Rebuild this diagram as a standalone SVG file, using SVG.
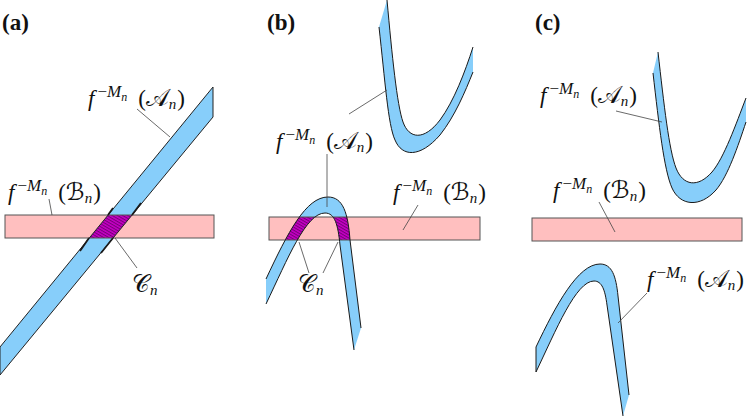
<svg xmlns="http://www.w3.org/2000/svg" width="749" height="419" viewBox="0 0 749 419">
<style>
  .band { fill: #87cefa; stroke: none; }
  .edge { fill: none; stroke: #1a1a1a; stroke-width: 1; }
  .outline { fill: none; stroke: #222; stroke-width: 1; }
  .thick { fill: none; stroke: #1a1a1a; stroke-width: 1.8; }
  .pink { fill: #ffbfbf; stroke: none; }
  .pinkline { fill: none; stroke: #555; stroke-width: 1; }
  .lead { fill: none; stroke: #444; stroke-width: 0.8; }
  .lab { font-family: "Liberation Serif", "DejaVu Serif", serif; font-size: 23px; fill: #111; }
  .i { font-style: italic; }
  .sup { font-size: 17px; }
  .ss { font-size: 12px; }
  .sub { font-size: 15px; }
  .cal { font-family: "DejaVu Serif", "DejaVu Sans", "Noto Sans", serif; font-size: 24px; }
  .panel { font-family: "Liberation Serif", "DejaVu Serif", serif; font-weight: bold; font-size: 23px; fill: #111; }
</style>
<defs>
  <pattern id="hatch" width="2.6" height="2.6" patternUnits="userSpaceOnUse" patternTransform="rotate(30)">
    <rect width="2.6" height="2.6" fill="#c800c8"/>
    <line x1="0" y1="0.6" x2="2.6" y2="0.6" stroke="#5a005a" stroke-width="0.8"/>
  </pattern>
  <clipPath id="clipA"><rect x="5" y="215" width="209" height="23"/></clipPath>
  <clipPath id="clipB"><rect x="269" y="217" width="211" height="23"/></clipPath>
</defs>

<!-- Panel (a) -->
<g id="panel-a">
  <text class="panel" x="2" y="30">(a)</text>
  <g id="a-rect"><rect class="pink" x="5" y="215" width="209" height="23"/></g>
  <g id="a-band">
    <polygon class="band" points="0,347 213,87 213,117 0,375"/>
    <polygon fill="url(#hatch)" clip-path="url(#clipA)" points="0,347 213,87 213,117 0,375"/>
    <rect class="pinkline" x="5" y="215" width="209" height="23"/>
    <polygon class="outline" points="0,347 213,87 213,117 0,375"/>
    <line class="thick" x1="89" y1="238" x2="80" y2="251"/>
    <line class="thick" x1="113" y1="238" x2="101" y2="253"/>
    <line class="thick" x1="132" y1="215" x2="141" y2="203"/>
    <line class="thick" x1="108" y1="215" x2="113" y2="208"/>
  </g>
  <g id="a-label-A" transform="translate(88,106)">
    <text class="lab" x="0" y="0"><tspan class="i">f</tspan><tspan class="sup" dx="3" dy="-9">−</tspan><tspan class="sup i">M</tspan><tspan class="ss i" dy="4">n</tspan><tspan dx="11" dy="5">(</tspan><tspan class="cal">𝒜</tspan><tspan class="sub i" dy="3">n</tspan><tspan dx="1" dy="-3">)</tspan></text>
  </g>
  <g id="a-label-B" transform="translate(8,200)">
    <text class="lab" x="0" y="0"><tspan class="i">f</tspan><tspan class="sup" dx="3" dy="-9">−</tspan><tspan class="sup i">M</tspan><tspan class="ss i" dy="4">n</tspan><tspan dx="11" dy="5">(</tspan><tspan class="cal">ℬ</tspan><tspan class="sub i" dy="3">n</tspan><tspan dx="1" dy="-3">)</tspan></text>
  </g>
  <g id="a-label-C" transform="translate(132,292)">
    <text class="lab" x="0" y="0"><tspan class="cal">𝒞</tspan><tspan class="sub i" dy="3">n</tspan></text>
  </g>
</g>

<!-- Panel (b) -->
<g id="panel-b">
  <text class="panel" x="267" y="30">(b)</text>
  <g id="b-upper">
    <path class="band" d="M379,27 C385,80 388,125 395,140 C402,157 420,158 440,135 C455,116 465,92 473,72 L473,47 C465,72 454,101 440,120 C424,141 409,139 403,122 C397,105 392,55 387,0 Z"/>
    <path class="edge" d="M379,27 C385,80 388,125 395,140 C402,157 420,158 440,135 C455,116 465,92 473,72"/>
    <path class="edge" d="M387,0 C392,55 397,105 403,122 C409,139 424,141 440,120 C454,101 465,72 473,47"/>
  </g>
  <g id="b-rect"><rect class="pink" x="269" y="217" width="211" height="23"/></g>
  <g id="b-lower">
    <path class="band" d="M266,279 C288,232 306,197 328,197 C343,197 348,213 350,240 L361,328 L354,350 L340,245 C338,225 335,213 325,213 C306,213 288,258 266,304 Z"/>
    <path fill="url(#hatch)" clip-path="url(#clipB)" d="M266,279 C288,232 306,197 328,197 C343,197 348,213 350,240 L361,328 L354,350 L340,245 C338,225 335,213 325,213 C306,213 288,258 266,304 Z"/>
    <rect class="pinkline" x="269" y="217" width="211" height="23"/>
    <path class="edge" d="M266,279 C288,232 306,197 328,197 C343,197 348,213 350,240 L361,328"/>
    <path class="edge" d="M266,304 C288,258 306,213 325,213 C335,213 338,225 340,245 L354,350"/>
  </g>
  <g id="b-label-A" transform="translate(276,149)">
    <text class="lab" x="0" y="0"><tspan class="i">f</tspan><tspan class="sup" dx="3" dy="-9">−</tspan><tspan class="sup i">M</tspan><tspan class="ss i" dy="4">n</tspan><tspan dx="11" dy="5">(</tspan><tspan class="cal">𝒜</tspan><tspan class="sub i" dy="3">n</tspan><tspan dx="1" dy="-3">)</tspan></text>
  </g>
  <g id="b-label-B" transform="translate(393,200)">
    <text class="lab" x="0" y="0"><tspan class="i">f</tspan><tspan class="sup" dx="3" dy="-9">−</tspan><tspan class="sup i">M</tspan><tspan class="ss i" dy="4">n</tspan><tspan dx="11" dy="5">(</tspan><tspan class="cal">ℬ</tspan><tspan class="sub i" dy="3">n</tspan><tspan dx="1" dy="-3">)</tspan></text>
  </g>
  <g id="b-label-C" transform="translate(298,292)">
    <text class="lab" x="0" y="0"><tspan class="cal">𝒞</tspan><tspan class="sub i" dy="3">n</tspan></text>
  </g>
</g>

<!-- Panel (c) -->
<g id="panel-c">
  <text class="panel" x="535" y="30">(c)</text>
  <g id="c-upper">
    <path class="band" d="M653,73 C659,125 664,170 672,188 C680,206 700,208 716,190 C728,176 738,146 746,122 L746,98 C736,124 724,158 712,172 C698,188 683,186 676,168 C669,150 664,105 658,52 Z"/>
    <path class="edge" d="M653,73 C659,125 664,170 672,188 C680,206 700,208 716,190 C728,176 738,146 746,122"/>
    <path class="edge" d="M658,52 C664,105 669,150 676,168 C683,186 698,188 712,172 C724,158 736,124 746,98"/>
  </g>
  <g id="c-rect">
    <rect class="pink" x="532" y="218" width="210" height="23"/>
    <rect class="pinkline" x="532" y="218" width="210" height="23"/>
  </g>
  <g id="c-lower">
    <path class="band" d="M536,347 C556,305 578,264 600,264 C612,264 616,276 618,296 L629,395 L623,416 L607,305 C605,290 602,281 594,281 C576,281 556,330 536,372 Z"/>
    <path class="edge" d="M536,347 C556,305 578,264 600,264 C612,264 616,276 618,296 L629,395"/>
    <path class="edge" d="M536,372 C556,330 576,281 594,281 C602,281 605,290 607,305 L623,416"/>
    <line class="edge" stroke="#666" x1="536" y1="347" x2="536" y2="372"/>
  </g>
  <g id="c-label-A1" transform="translate(540,103)">
    <text class="lab" x="0" y="0"><tspan class="i">f</tspan><tspan class="sup" dx="3" dy="-9">−</tspan><tspan class="sup i">M</tspan><tspan class="ss i" dy="4">n</tspan><tspan dx="11" dy="5">(</tspan><tspan class="cal">𝒜</tspan><tspan class="sub i" dy="3">n</tspan><tspan dx="1" dy="-3">)</tspan></text>
  </g>
  <g id="c-label-B" transform="translate(553,198)">
    <text class="lab" x="0" y="0"><tspan class="i">f</tspan><tspan class="sup" dx="3" dy="-9">−</tspan><tspan class="sup i">M</tspan><tspan class="ss i" dy="4">n</tspan><tspan dx="11" dy="5">(</tspan><tspan class="cal">ℬ</tspan><tspan class="sub i" dy="3">n</tspan><tspan dx="1" dy="-3">)</tspan></text>
  </g>
  <g id="c-label-A2" transform="translate(647,287)">
    <text class="lab" x="0" y="0"><tspan class="i">f</tspan><tspan class="sup" dx="3" dy="-9">−</tspan><tspan class="sup i">M</tspan><tspan class="ss i" dy="4">n</tspan><tspan dx="11" dy="5">(</tspan><tspan class="cal">𝒜</tspan><tspan class="sub i" dy="3">n</tspan><tspan dx="1" dy="-3">)</tspan></text>
  </g>
</g>

<!-- Connectors (leader lines) -->
<g id="connectors">
  <line class="lead" x1="137" y1="109" x2="170" y2="137"/>
  <line class="lead" x1="49" y1="199" x2="52" y2="215"/>
  <line class="lead" x1="115" y1="238" x2="137" y2="268"/>
  <line class="lead" x1="349" y1="114" x2="387" y2="90"/>
  <line class="lead" x1="327" y1="154" x2="327" y2="207"/>
  <line class="lead" x1="418" y1="205" x2="403" y2="230"/>
  <line class="lead" x1="309" y1="273" x2="299" y2="242"/>
  <line class="lead" x1="323" y1="273" x2="338" y2="242"/>
  <line class="lead" x1="616" y1="111" x2="662" y2="122"/>
  <line class="lead" x1="599" y1="202" x2="615" y2="232"/>
  <line class="lead" x1="647" y1="293" x2="618" y2="323"/>
</g>
</svg>
